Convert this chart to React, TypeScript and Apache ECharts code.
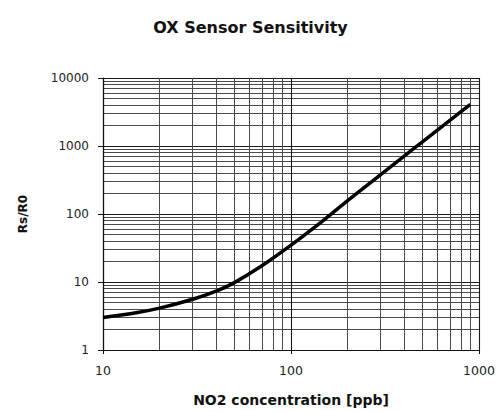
import React, { useEffect, useRef } from "react";
import * as echarts from "echarts";

// NO2 concentration (ppb) and the matching sensor resistance ratio Rs/R0
const concentrationPpb = [10, 15, 20, 30, 40, 50, 70, 100, 150, 200, 300, 400, 500, 700, 900];
const resistanceRatio = [3.0, 3.53, 4.13, 5.57, 7.33, 9.8, 17.3, 34.8, 82, 157, 380, 710, 1150, 2380, 4100];

// Axis ranges (decades)
const xRange = [10, 1000];
const yRange = [1, 10000];

const FONT = "DejaVu Sans, Liberation Sans, sans-serif";
const plain = (v: number) => String(Math.round(v));

export default function App() {
  const ref = useRef<HTMLDivElement | null>(null);

  useEffect(() => {
    if (!ref.current) return;
    const chart = echarts.init(ref.current, undefined, { renderer: "svg" });

    const gridLine = { color: "#1a1a1a", width: 1.1 };
    const minorLine = { color: "#4a4a4a", width: 1 };

    chart.setOption({
      animation: false,
      backgroundColor: "#ffffff",
      title: {
        text: "OX Sensor Sensitivity",
        left: "center",
        top: 14,
        textStyle: { fontFamily: FONT, fontSize: 16, fontWeight: "bold", color: "#111" },
      },
      grid: { left: 103, right: 22, top: 78, bottom: 58, containLabel: false },
      xAxis: {
        type: "log",
        logBase: 10,
        min: xRange[0],
        max: xRange[1],
        name: "NO2 concentration [ppb]",
        nameLocation: "middle",
        nameGap: 43,
        nameTextStyle: { fontFamily: FONT, fontSize: 14, fontWeight: "bold", color: "#111" },
        axisLine: { show: true, lineStyle: { color: "#111", width: 1.2 } },
        axisTick: { show: true, length: 4, lineStyle: { color: "#111" } },
        axisLabel: { fontFamily: FONT, fontSize: 12.5, color: "#222", margin: 14, formatter: plain },
        splitLine: { show: true, lineStyle: gridLine },
        minorTick: { show: false, splitNumber: 9 },
        minorSplitLine: { show: true, lineStyle: minorLine },
      },
      yAxis: {
        type: "log",
        logBase: 10,
        min: yRange[0],
        max: yRange[1],
        name: "Rs/R0",
        nameLocation: "middle",
        nameRotate: 90,
        nameGap: 74,
        nameTextStyle: { fontFamily: FONT, fontSize: 12, fontWeight: "bold", color: "#111" },
        axisLine: { show: true, lineStyle: { color: "#111", width: 1.2 } },
        axisTick: { show: true, length: 5, lineStyle: { color: "#111" } },
        axisLabel: { fontFamily: FONT, fontSize: 12, color: "#222", margin: 14, formatter: plain },
        splitLine: { show: true, lineStyle: gridLine },
        minorTick: { show: false, splitNumber: 9 },
        minorSplitLine: { show: true, lineStyle: minorLine },
      },
      series: [
        {
          type: "line",
          data: concentrationPpb.map((c, i) => [c, resistanceRatio[i]]),
          smooth: 0.3,
          showSymbol: false,
          z: 5,
          lineStyle: { color: "#000", width: 3.5 },
        },
      ],
    });

    return () => chart.dispose();
  }, []);

  return (
    <div
      ref={ref}
      style={{ position: "fixed", left: 0, top: 0, width: 501, height: 412 }}
    />
  );
}
